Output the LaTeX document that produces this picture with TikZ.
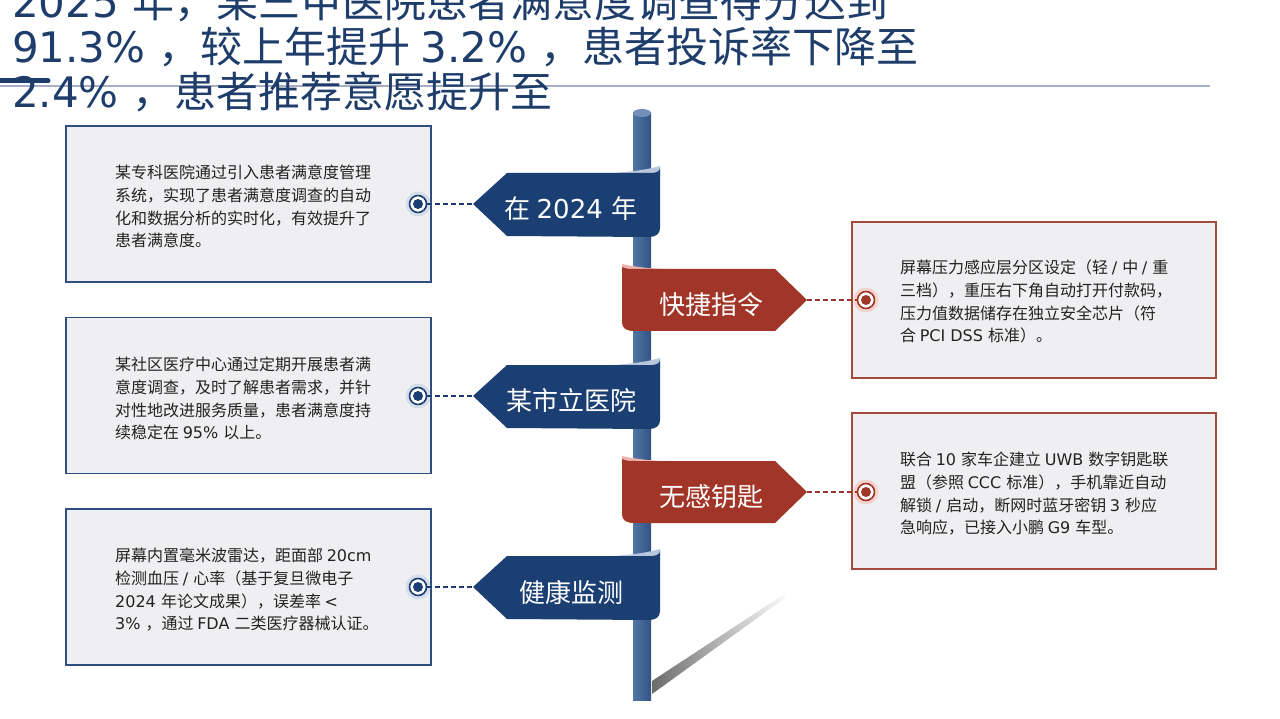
\documentclass[tikz,border=0pt]{standalone}
\usepackage{fontspec}
\setmainfont{DejaVu Sans}
\newfontfamily\latinfont{DejaVu Sans}
\newfontfamily\cjkfont{Noto Sans CJK SC}
\XeTeXinterchartokenstate=1
\newXeTeXintercharclass\cjkclass
\makeatletter
\def\setcjkrange#1#2{\count@=#1\relax\loop\XeTeXcharclass\count@=\cjkclass\relax\ifnum\count@<#2\relax\advance\count@\@ne\repeat}
\makeatother
\setcjkrange{"4E00}{"9FFF}
\setcjkrange{"3000}{"303F}
\setcjkrange{"FF00}{"FFEF}
\XeTeXinterchartoks 0 \cjkclass = {\cjkfont}
\XeTeXinterchartoks 4095 \cjkclass = {\cjkfont}
\XeTeXinterchartoks \cjkclass 0 = {\latinfont}
\XeTeXinterchartoks 4095 0 = {\latinfont}
\definecolor{navy}{HTML}{1E3D6B}
\definecolor{bban}{HTML}{1B3F73}
\definecolor{rban}{HTML}{A13527}
\definecolor{bline}{HTML}{2E4E7E}
\definecolor{rline}{HTML}{A24A3E}
\definecolor{boxfill}{HTML}{EFEFF1}
\definecolor{halob}{HTML}{D4DDEA}
\definecolor{halor}{HTML}{F8D2CD}
\definecolor{rulec}{HTML}{A7AEC3}
\definecolor{txt}{HTML}{222222}
\definecolor{poleL}{HTML}{5276A6}
\definecolor{poleR}{HTML}{315485}
\definecolor{poleT}{HTML}{7290BA}
\definecolor{bfold}{HTML}{B7C7DC}
\definecolor{rfold}{HTML}{EBB5AD}
\tikzset{
  lbox/.style={draw=bline, line width=1.5pt, fill=boxfill, minimum width=365pt, minimum height=156pt, inner sep=0pt},
  rbox/.style={draw=rline, line width=1.5pt, fill=boxfill, minimum width=364pt, minimum height=156pt, inner sep=0pt},
  btext/.style={anchor=north west, inner sep=0pt, align=left, text=txt, font=\fontsize{16}{22.7}\selectfont},
  bantext/.style={text=white, inner sep=0pt, font=\fontsize{26}{30}\selectfont},
  titletext/.style={anchor=base west, inner sep=0pt, text=navy, font=\fontsize{42}{45}\selectfont},
  halo/.style={circle, minimum size=25pt, inner sep=0pt},
  ring/.style={circle, minimum size=17pt, inner sep=0pt, fill=white, line width=1.6pt},
  conn/.style={dash pattern=on 5pt off 3pt, line width=1.2pt}
}
\begin{document}
\begin{tikzpicture}[x=1pt,y=-1pt]
\useasboundingbox (0,0) rectangle (1280,719);
\fill[white] (0,0) rectangle (1280,719);

% header rule
\draw[rulec, line width=2pt] (0,86) -- (1210,86);
\draw[navy, line width=5pt, line cap=round] (-5,81) -- (48,81);
\node[titletext] (t1) at (12,18) {2025 年，某三甲医院患者满意度调查得分达到};
\node[titletext] (t2) at (12,63) {91.3\% ，较上年提升 3.2\% ，患者投诉率下降至};
\node[titletext] (t3) at (12,108) {2.4\% ，患者推荐意愿提升至};

% shadow of the pole
\foreach \i in {0,...,39}{
  \pgfmathsetmacro\ta{\i/40}
  \pgfmathsetmacro\tb{(\i+1.2)/40}
  \pgfmathsetmacro\c{55*(1-\i/40)+2}
  \fill[black!\c] ({652+131*\ta},{681-86*\ta}) -- ({652+131*\tb},{681-86*\tb}) -- ({652+133*\tb},{694-96*\tb}) -- ({652+133*\ta},{694-96*\ta}) -- cycle;
}

% pole
\shade[left color=poleL, right color=poleR] (633,113) rectangle (651,700);
\shade[left color=poleL, right color=poleR] (633,700) arc[start angle=180, end angle=360, x radius=9, y radius=4] -- cycle;
\fill[poleT] (642,113) ellipse[x radius=9, y radius=4];

% boxes
\node[lbox] (b1) at (248.5,204) {};
\node[lbox] (b2) at (248.5,395.5) {};
\node[lbox] (b3) at (248.5,587) {};
\node[rbox] (r1) at (1034,300) {};
\node[rbox] (r2) at (1034,491) {};

\node[btext] (b1t) at (115,165) {某专科医院通过引入患者满意度管理\\系统，实现了患者满意度调查的自动\\化和数据分析的实时化，有效提升了\\患者满意度。};
\node[btext] (b2t) at (115,357) {某社区医疗中心通过定期开展患者满\\意度调查，及时了解患者需求，并针\\对性地改进服务质量，患者满意度持\\续稳定在 95\% 以上。};
\node[btext] (b3t) at (115,548) {屏幕内置毫米波雷达，距面部 20cm\\检测血压 / 心率（基于复旦微电子\\2024 年论文成果），误差率 <\\3\% ，通过 FDA 二类医疗器械认证。};
\node[btext] (r1t) at (900,260) {屏幕压力感应层分区设定（轻 / 中 / 重\\三档），重压右下角自动打开付款码，\\压力值数据储存在独立安全芯片（符\\合 PCI DSS 标准）。};
\node[btext] (r2t) at (900,452) {联合 10 家车企建立 UWB 数字钥匙联\\盟（参照 CCC 标准），手机靠近自动\\解锁 / 启动，断网时蓝牙密钥 3 秒应\\急响应，已接入小鹏 G9 车型。};

% blue banners (pointing left)
\foreach \c/\n in {204/1,396/2,587/3}{
  \fill[bfold] (612,\c-31) .. controls (632,\c-32) and (650,\c-35) .. (660,\c-38) -- (660,\c-31) -- cycle;
  \fill[bban] (473,\c) -- (507,\c-31) -- (652,\c-31) .. controls (656,\c-31) and (660,\c-33) .. (660,\c-36) -- (660,\c+24) .. controls (660,\c+30) and (656,\c+33) .. (648,\c+33) -- (507,\c+32) -- cycle;
  \coordinate (tip\n) at (473,\c);
}
% red banners (pointing right)
\foreach \c/\n in {300/1,492/2}{
  \fill[rfold] (622,\c-36) .. controls (636,\c-33) and (652,\c-31) .. (670,\c-31) -- (622,\c-31) -- cycle;
  \fill[rban] (622,\c-33) .. controls (626,\c-31) and (630,\c-31) .. (636,\c-31) -- (775,\c-31) -- (807,\c) -- (775,\c+31) -- (634,\c+31) .. controls (626,\c+31) and (622,\c+28) .. (622,\c+22) -- cycle;
  \coordinate (rtip\n) at (807,\c);
}
\node[bantext] (l1) at (571,209) {在 2024 年};
\node[bantext] (l2) at (571,401) {某市立医院};
\node[bantext] (l3) at (571,592) {健康监测};
\node[bantext] (l4) at (711,305) {快捷指令};
\node[bantext] (l5) at (711,497) {无感钥匙};

% markers and connectors
\foreach \y/\n in {204/1,396/2,587/3}{
  \node[halo, fill=halob] (h\n) at (418,\y) {};
  \node[ring, draw=bban] (m\n) at (418,\y) {};
  \fill[bban] (m\n.center) circle[radius=5];
  \draw[conn, bban] (m\n) -- (tip\n);
}
\foreach \y/\n in {300/1,492/2}{
  \node[halo, fill=halor] (hr\n) at (866,\y) {};
  \node[ring, draw=rban] (mr\n) at (866,\y) {};
  \fill[rban] (mr\n.center) circle[radius=5];
  \draw[conn, rban] (rtip\n) -- (mr\n);
}
\end{tikzpicture}
\end{document}
